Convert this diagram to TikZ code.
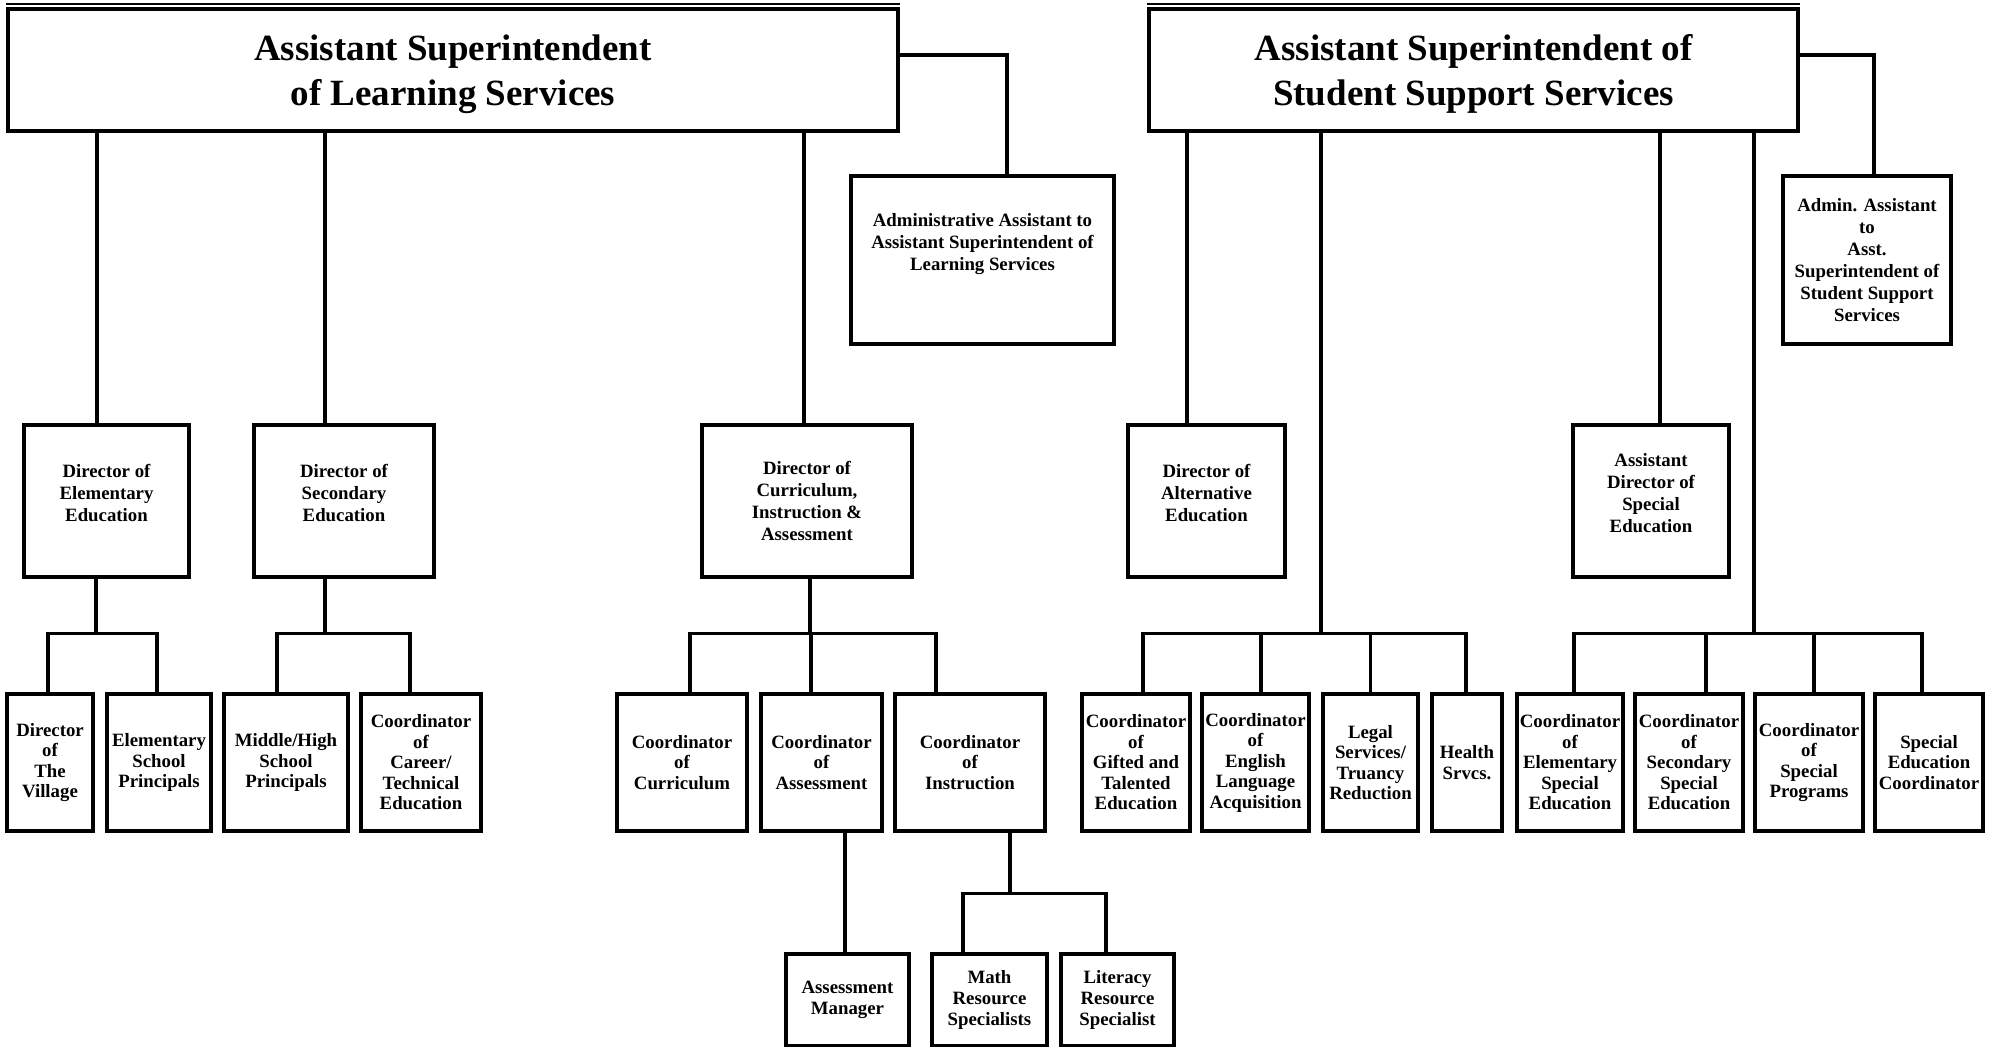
\documentclass[tikz,border=0pt]{standalone}
\usepackage{fontspec}
\setmainfont{Liberation Serif}
\usepackage{tikz}
\usetikzlibrary{positioning}

\begin{document}
\begin{tikzpicture}
[
	x=1pt, y=-1pt,
	head/.style = {rectangle, draw, line width=3.5pt, inner sep=0pt, minimum height=122pt, text depth=0pt, align=center, font=\fontsize{37}{45}\selectfont\bfseries},
	unit/.style = {rectangle, draw, line width=3.5pt, inner sep=2pt, align=center, font=\fontsize{18.8}{20.5}\selectfont\bfseries},
	mid/.style = {unit, minimum height=152pt, font=\fontsize{18.8}{22}\selectfont\bfseries},
	low/.style = {unit, minimum height=137pt},
	leaf/.style = {unit, minimum height=92pt, font=\fontsize{18.8}{21}\selectfont\bfseries},
	lift/.style = {text depth=#1},
	link/.style = {-, line width=3.5pt},
	rule/.style = {-, line width=2.4pt}
]
\useasboundingbox (0,0) rectangle (1990,1047);

\node[head, minimum width=890pt] (learning) at (453,70) {Assistant Superintendent\\of Learning Services};
\node[head, minimum width=649pt] (support) at (1473.5,70) {Assistant Superintendent of\\Student Support Services};
\draw[rule] ([yshift=3pt]learning.north west) -- ([yshift=3pt]learning.north east);
\draw[rule] ([yshift=3pt]support.north west) -- ([yshift=3pt]support.north east);

\node[mid, lift=36pt, minimum width=263pt, minimum height=168pt] (adminLearning) at (982.5,260) {Administrative Assistant to\\Assistant Superintendent of\\Learning Services};
\node[mid, minimum width=168pt, minimum height=168pt] (adminSupport) at (1867,260) {Admin. Assistant\\to\\Asst.\\Superintendent of\\Student Support\\Services};

\node[mid, lift=16pt, minimum width=165pt] (dirElem) at (106.5,501) {Director of\\Elementary\\Education};
\node[mid, lift=16pt, minimum width=180pt] (dirSec) at (344,501) {Director of\\Secondary\\Education};
\node[mid, minimum width=210pt] (dirCurric) at (807,501) {Director of\\Curriculum,\\Instruction \&\\Assessment};
\node[mid, lift=16pt, minimum width=157pt] (dirAlt) at (1206.5,501) {Director of\\Alternative\\Education};
\node[mid, lift=16pt, minimum width=156pt] (asstDirSped) at (1651,501) {Assistant\\Director of\\Special\\Education};

\node[low, minimum width=86pt] (village) at (50,762.5) {Director\\of\\The\\Village};
\node[low, minimum width=104pt] (elemPrin) at (159,762.5) {Elementary\\School\\Principals};
\node[low, minimum width=124pt] (secPrin) at (286,762.5) {Middle/High\\School\\Principals};
\node[low, minimum width=120pt] (career) at (421,762.5) {Coordinator\\of\\Career/\\Technical\\Education};
\node[low, minimum width=130pt] (coordCurric) at (682,762.5) {Coordinator\\of\\Curriculum};
\node[low, minimum width=121pt] (coordAssess) at (821.5,762.5) {Coordinator\\of\\Assessment};
\node[low, minimum width=150pt] (coordInstr) at (970,762.5) {Coordinator\\of\\Instruction};
\node[low, minimum width=108pt] (gifted) at (1136,762.5) {Coordinator\\of\\Gifted and\\Talented\\Education};
\node[low, minimum width=107pt] (ela) at (1255.5,762.5) {Coordinator\\of\\English\\Language\\Acquisition};
\node[low, minimum width=95pt] (legal) at (1370.5,762.5) {Legal\\Services/\\Truancy\\Reduction};
\node[low, minimum width=70pt] (health) at (1467,762.5) {Health\\Srvcs.};
\node[low, minimum width=106pt] (elemSped) at (1570,762.5) {Coordinator\\of\\Elementary\\Special\\Education};
\node[low, minimum width=108pt] (secSped) at (1689,762.5) {Coordinator\\of\\Secondary\\Special\\Education};
\node[low, minimum width=108pt] (progSped) at (1809,762.5) {Coordinator\\of\\Special\\Programs};
\node[low, minimum width=108pt] (spedCoord) at (1929,762.5) {Special\\Education\\Coordinator};

\node[leaf, minimum width=123pt] (assessMgr) at (847.5,1000) {Assessment\\Manager};
\node[leaf, minimum width=115pt] (mathSpec) at (989.5,1000) {Math\\Resource\\Specialists};
\node[leaf, minimum width=113pt] (literacySpec) at (1117.5,1000) {Literacy\\Resource\\Specialist};

\draw[link] ([yshift=15pt]learning.east) -| ([xshift=24.5pt]adminLearning.north);
\draw[link] ([yshift=15pt]support.east) -| ([xshift=7pt]adminSupport.north);

\draw[link] ([xshift=-9.5pt]dirElem.north) -- ([xshift=-9.5pt]dirElem.north |- learning.south);
\draw[link] ([xshift=-19pt]dirSec.north) -- ([xshift=-19pt]dirSec.north |- learning.south);
\draw[link] ([xshift=-3pt]dirCurric.north) -- ([xshift=-3pt]dirCurric.north |- learning.south);
\draw[link] ([xshift=-19.5pt]dirAlt.north) -- ([xshift=-19.5pt]dirAlt.north |- support.south);
\draw[link] ([xshift=9pt]asstDirSped.north) -- ([xshift=9pt]asstDirSped.north |- support.south);

\draw[link] ([xshift=-2pt]village.north) -- ++(0,-59) -| ([xshift=-10.5pt]dirElem.south);
\draw[link] ([xshift=-2pt]elemPrin.north) -- ++(0,-59) -| ([xshift=-10.5pt]dirElem.south);
\draw[link] ([xshift=-9pt]secPrin.north) -- ++(0,-59) -| ([xshift=-19pt]dirSec.south);
\draw[link] ([xshift=-11pt]career.north) -- ++(0,-59) -| ([xshift=-19pt]dirSec.south);
\draw[link] ([xshift=8pt]coordCurric.north) -- ++(0,-59) -| ([xshift=3pt]dirCurric.south);
\draw[link] ([xshift=-10.5pt]coordAssess.north) -- ++(0,-59) -| ([xshift=3pt]dirCurric.south);
\draw[link] ([xshift=-34pt]coordInstr.north) -- ++(0,-59) -| ([xshift=3pt]dirCurric.south);

\draw[link] ([xshift=7pt]gifted.north) -- ++(0,-59) -| ([xshift=-49.5pt]legal.north |- support.south);
\draw[link] ([xshift=5.5pt]ela.north) -- ++(0,-59) -| ([xshift=-49.5pt]legal.north |- support.south);
\draw[link] (legal.north) -- ++(0,-59) -| ([xshift=-49.5pt]legal.north |- support.south);
\draw[link] ([xshift=-1pt]health.north) -- ++(0,-59) -| ([xshift=-49.5pt]legal.north |- support.south);
\draw[link] ([xshift=4pt]elemSped.north) -- ++(0,-59) -| ([xshift=-55pt]progSped.north |- support.south);
\draw[link] ([xshift=17pt]secSped.north) -- ++(0,-59) -| ([xshift=-55pt]progSped.north |- support.south);
\draw[link] ([xshift=5pt]progSped.north) -- ++(0,-59) -| ([xshift=-55pt]progSped.north |- support.south);
\draw[link] ([xshift=-7pt]spedCoord.north) -- ++(0,-59) -| ([xshift=-55pt]progSped.north |- support.south);

\draw[link] ([xshift=-2.5pt]assessMgr.north) -- ([xshift=-2.5pt]assessMgr.north |- coordAssess.south);
\draw[link] ([xshift=-26.5pt]mathSpec.north) -- ++(0,-59) -| ([xshift=40pt]coordInstr.south);
\draw[link] ([xshift=-11.5pt]literacySpec.north) -- ++(0,-59) -| ([xshift=40pt]coordInstr.south);

\end{tikzpicture}
\end{document}
